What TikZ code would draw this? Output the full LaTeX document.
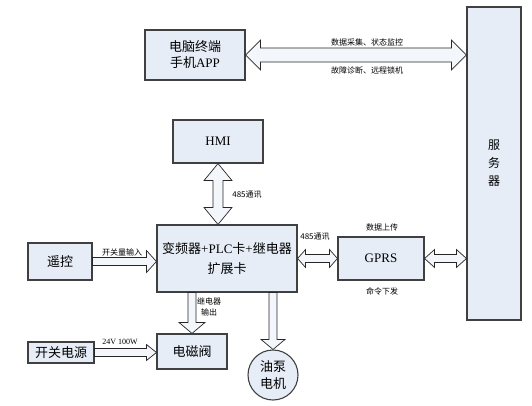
\documentclass[tikz,border=0pt]{standalone}
\usepackage{fontspec}
\setmainfont{Liberation Serif}
\newfontfamily\cjk{Noto Sans CJK SC}
\usetikzlibrary{calc}
\definecolor{boxfill}{RGB}{231,237,247}
\definecolor{boxline}{RGB}{64,64,64}
% double horizontal block arrow: s, h, L, A, B
\newcommand\dblH[5]{\draw[blk] (#4) -- ($(#4)+(#3,#2)$) -- ($(#4)+(#3,#1)$) -- ($(#5)+(-#3,#1)$) -- ($(#5)+(-#3,#2)$) -- (#5) -- ($(#5)+(-#3,-#2)$) -- ($(#5)+(-#3,-#1)$) -- ($(#4)+(#3,-#1)$) -- ($(#4)+(#3,-#2)$) -- cycle;}
\newcommand\sglH[5]{\draw[blk] ($(#4)+(0,#1)$) -- ($(#5)+(-#3,#1)$) -- ($(#5)+(-#3,#2)$) -- (#5) -- ($(#5)+(-#3,-#2)$) -- ($(#5)+(-#3,-#1)$) -- ($(#4)+(0,-#1)$) -- cycle;}
\newcommand\dblV[5]{\draw[blk] (#4) -- ($(#4)+(#2,#3)$) -- ($(#4)+(#1,#3)$) -- ($(#5)+(#1,-#3)$) -- ($(#5)+(#2,-#3)$) -- (#5) -- ($(#5)+(-#2,-#3)$) -- ($(#5)+(-#1,-#3)$) -- ($(#4)+(-#1,#3)$) -- ($(#4)+(-#2,#3)$) -- cycle;}
\newcommand\sglV[5]{\draw[blk] ($(#4)+(#1,0)$) -- ($(#5)+(#1,-#3)$) -- ($(#5)+(#2,-#3)$) -- (#5) -- ($(#5)+(-#2,-#3)$) -- ($(#5)+(-#1,-#3)$) -- ($(#4)+(-#1,0)$) -- cycle;}
\begin{document}
\begin{tikzpicture}[x=1pt,y=-1pt,
  box/.style={draw=boxline, line width=1.1pt, fill=boxfill, inner sep=0pt, align=center, font=\fontsize{13}{16}\selectfont},
  blk/.style={draw=black!85, line width=0.7pt, fill=boxfill!50!white},
  lbl/.style={font=\fontsize{8}{11}\selectfont\cjk, inner sep=0pt, align=center}]
\useasboundingbox (0,0) rectangle (532,405);

\node[box, minimum width=100pt, minimum height=50pt] (pc) at (195,55) {{\cjk 电脑终端}\\{\cjk 手机}APP};
\node[box, minimum width=54pt, minimum height=313pt, font=\fontsize{12}{18}\selectfont\cjk] (srv) at (494,163.5) {服\\务\\器};
\node[box, minimum width=90pt, minimum height=43pt] (hmi) at (218,141.5) {HMI};
\node[box, minimum width=140pt, minimum height=67pt, font=\fontsize{13}{20}\selectfont] (main) at (227,258.5) {{\cjk 变频器}+PLC{\cjk 卡}+{\cjk 继电器}\\{\cjk 扩展卡}};
\node[box, minimum width=64pt, minimum height=37pt, font=\fontsize{13}{16}\selectfont\cjk] (rc) at (60,261.5) {遥控};
\node[box, minimum width=86pt, minimum height=43pt] (gprs) at (381,258.5) {GPRS};
\node[box, minimum width=70pt, minimum height=35pt, font=\fontsize{13}{16}\selectfont\cjk] (valve) at (192,351.5) {电磁阀};
\node[box, minimum width=66pt, minimum height=21pt, font=\fontsize{13}{16}\selectfont\cjk] (psu) at (61,352.5) {开关电源};
\node[box, circle, minimum size=50pt, font=\fontsize{13}{17}\selectfont\cjk] (pump) at (273,375) {油泵\\电机};

\coordinate (t1) at (pc.east -| srv.west);
\coordinate (t2) at (hmi.south |- main.north);
\coordinate (t3) at (rc.east -| main.west);
\coordinate (t4) at (main.east -| gprs.west);
\coordinate (t5) at (gprs.east -| srv.west);
\coordinate (t6) at (valve.north |- main.south);
\coordinate (t7) at (pump.north |- main.south);
\coordinate (t8) at (psu.east -| valve.west);

\dblH{7}{15}{15}{pc.east}{t1}
\dblV{5}{14}{17}{hmi.south}{t2}
\sglH{4}{11}{10}{rc.east}{t3}
\dblH{4}{9}{8}{main.east}{t4}
\dblH{4}{9}{10}{gprs.east}{t5}
\sglV{4}{13}{11}{t6}{valve.north}
\sglV{4}{12}{10}{t7}{pump.north}
\sglH{4}{8}{10}{psu.east}{t8}

\node[lbl] (l1) at (367,42) {数据采集、状态监控};
\node[lbl] (l2) at (367,70) {故障诊断、远程锁机};
\node[lbl] (l3) at (247,195) {485通讯};
\node[lbl] (l4) at (122,252) {开关量输入};
\node[lbl] (l5) at (315,237) {485通讯};
\node[lbl] (l6) at (382,227) {数据上传};
\node[lbl] (l7) at (382,291) {命令下发};
\node[lbl, font=\fontsize{8}{11}\selectfont\cjk] (l8) at (209,306.5) {继电器\\输出};
\node[lbl, font=\fontsize{8}{11}\selectfont] (l9) at (120,342) {24V 100W};
\end{tikzpicture}
\end{document}
